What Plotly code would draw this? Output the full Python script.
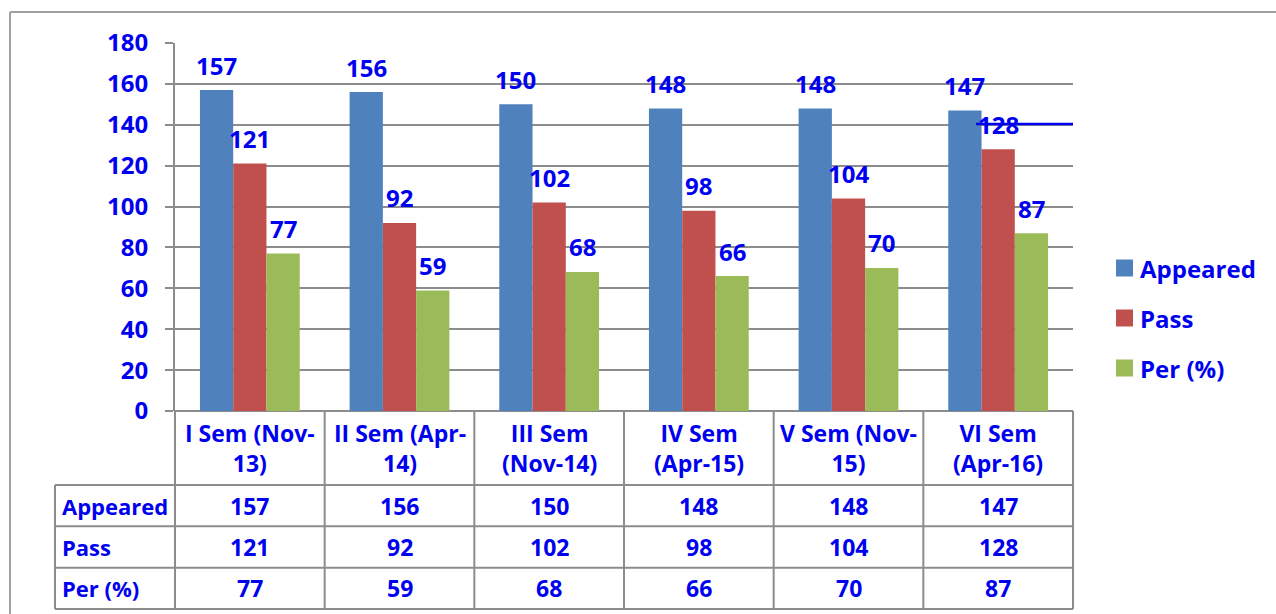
import plotly.graph_objects as go

# ---------------- data ----------------
categories = ["I Sem (Nov-13)", "II Sem (Apr-14)", "III Sem (Nov-14)",
              "IV Sem (Apr-15)", "V Sem (Nov-15)", "VI Sem (Apr-16)"]
header_labels = ["I Sem (Nov-<br>13)", "II Sem (Apr-<br>14)", "III Sem<br>(Nov-14)",
                 "IV Sem<br>(Apr-15)", "V Sem (Nov-<br>15)", "VI Sem<br>(Apr-16)"]
series_names = ["Appeared", "Pass", "Per (%)"]
appeared = [157, 156, 150, 148, 148, 147]
passed = [121, 92, 102, 98, 104, 128]
per = [77, 59, 68, 66, 70, 87]
y_ticks = [0, 20, 40, 60, 80, 100, 120, 140, 160, 180]

# ---------------- style ----------------
series_values = [appeared, passed, per]
colors = ["#4F81BD", "#C0504D", "#9BBB59"]
BLUE = "#0000F0"
GRID = "#8C8C8C"
FONT = "Open Sans"
W, H = 1276, 614
L, R, T, B = 175, 1073, 43, 411
PW, PH = R - L, B - T
BARGAP = 1 / 3


def px_x(px):
    return (px - L) / PW


def px_y(py):
    return (B - py) / PH


fig = go.Figure()
for name, vals, col in zip(series_names, series_values, colors):
    fig.add_trace(go.Bar(x=categories, y=vals, name=name, marker_color=col,
                         marker_line_width=0, showlegend=False))

shapes = []
annotations = []

# data labels above bars
w = (1 - BARGAP) / len(series_names)
for j, vals in enumerate(series_values):
    for i, v in enumerate(vals):
        annotations.append(dict(
            x=i + (j - 1) * w, y=v, xref="x", yref="y", text=str(v),
            showarrow=False, yshift=25, yanchor="middle",
            font=dict(family=FONT, size=24, color=BLUE, weight="bold")))

# ---------------- data table ----------------
row_lines_px = [485, 526.3, 567.7, 609]
left_px = 55
ncat = len(categories)
line_style = dict(color=GRID, width=2)

# horizontal lines
for py in row_lines_px:
    shapes.append(dict(type="line", xref="paper", yref="paper",
                       x0=px_x(left_px), x1=1, y0=px_y(py), y1=px_y(py), line=line_style))
# vertical lines
shapes.append(dict(type="line", xref="paper", yref="paper", x0=px_x(left_px), x1=px_x(left_px),
                   y0=px_y(row_lines_px[0]), y1=px_y(row_lines_px[-1]), line=line_style))
for k in range(0, ncat + 1):
    shapes.append(dict(type="line", xref="paper", yref="paper", x0=k / ncat, x1=k / ncat,
                       y0=0, y1=px_y(row_lines_px[-1]), line=line_style))

# header text
for i, lab in enumerate(header_labels):
    annotations.append(dict(x=(i + 0.5) / ncat, y=px_y((B + row_lines_px[0]) / 2),
                            xref="paper", yref="paper", text=lab, showarrow=False,
                            xanchor="center", yanchor="middle", align="center",
                            font=dict(family=FONT, size=23, color=BLUE, weight="bold")))
# rows
for r, (name, vals) in enumerate(zip(series_names, series_values)):
    yc = px_y((row_lines_px[r] + row_lines_px[r + 1]) / 2)
    annotations.append(dict(x=px_x(left_px + 5), y=yc, xref="paper", yref="paper",
                            text=name, showarrow=False, xanchor="left", yanchor="middle",
                            font=dict(family=FONT, size=22, color=BLUE, weight="bold")))
    for i, v in enumerate(vals):
        annotations.append(dict(x=(i + 0.5) / ncat, y=yc, xref="paper", yref="paper",
                                text=str(v), showarrow=False, xanchor="center", yanchor="middle",
                                font=dict(family=FONT, size=23, color=BLUE, weight="bold")))

# ---------------- custom legend ----------------
leg_y = [268, 318, 368]
for name, col, py in zip(series_names, colors, leg_y):
    shapes.append(dict(type="rect", xref="paper", yref="paper",
                       x0=px_x(1116), x1=px_x(1133), y0=px_y(py - 8.5), y1=px_y(py + 8.5),
                       fillcolor=col, line_width=0))
    annotations.append(dict(x=px_x(1138), y=px_y(py), xref="paper", yref="paper", text=name,
                            showarrow=False, xanchor="left", yanchor="middle",
                            font=dict(family=FONT, size=24, color=BLUE, weight="bold")))

# stray blue line near 128 label (as in reference)
shapes.append(dict(type="line", xref="paper", yref="paper", x0=px_x(976), x1=1,
                   y0=px_y(124), y1=px_y(124), line=dict(color="#0000F0", width=2.5)))

# outer chart border
border = dict(color="#A0A0A0", width=2)
shapes.append(dict(type="line", xref="paper", yref="paper", x0=px_x(10), x1=px_x(W + 5),
                   y0=px_y(12), y1=px_y(12), line=border))
shapes.append(dict(type="line", xref="paper", yref="paper", x0=px_x(10), x1=px_x(10),
                   y0=px_y(12), y1=px_y(H + 5), line=border))

fig.update_layout(
    width=W, height=H,
    margin=dict(l=L, r=W - R, t=T, b=H - B),
    paper_bgcolor="white", plot_bgcolor="white",
    barmode="group", bargap=BARGAP, bargroupgap=0,
    showlegend=False,
    xaxis=dict(type="category", range=[-0.5, ncat - 0.5], showticklabels=False,
               showgrid=False, zeroline=False, showline=False, ticks=""),
    yaxis=dict(range=[0, 180], tickvals=y_ticks, showgrid=True, gridcolor=GRID, gridwidth=2,
               zeroline=True, zerolinecolor=GRID, zerolinewidth=2,
               showline=True, linecolor=GRID, linewidth=2,
               ticks="outside", ticklen=8, tickwidth=2, tickcolor=GRID,
               ticklabelstandoff=12,
               tickfont=dict(family=FONT, size=24, color=BLUE, weight="bold")),
    shapes=shapes, annotations=annotations,
)

fig.write_html("out.html", config={"displayModeBar": False},
               post_script="document.body.style.margin='0';document.body.style.overflow='hidden';")
